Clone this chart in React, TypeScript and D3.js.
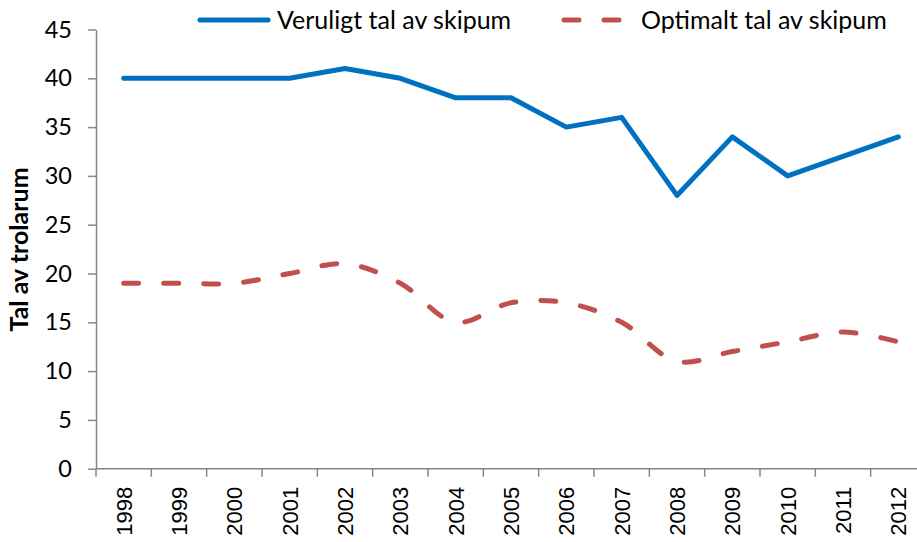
import React, { useRef, useEffect } from 'react';
import * as d3 from 'd3';

const years = ['1998', '1999', '2000', '2001', '2002', '2003', '2004', '2005', '2006', '2007', '2008', '2009', '2010', '2011', '2012'];
const actual = [40, 40, 40, 40, 41, 40, 38, 38, 35, 36, 28, 34, 30, 32, 34];
const optimal = [19, 19, 19, 20, 21, 19, 15, 17, 17, 15, 11, 12, 13, 14, 13];
const yTicks = [0, 5, 10, 15, 20, 25, 30, 35, 40, 45];

const seriesNames = ['Veruligt tal av skipum', 'Optimalt tal av skipum'];
const blue = '#0070C0';
const red = '#C0504D';
const axisColor = '#868686';
const font = 'Lato, "Noto Sans", sans-serif';

const App: React.FC = () => {
    const svgRef = useRef<SVGSVGElement>(null);
    const width = 917;
    const height = 542;

    useEffect(() => {
        document.body.style.margin = '0';
        if (!svgRef.current) return;
        const svg = d3.select(svgRef.current);
        svg.selectAll('*').remove();

        const left = 96;
        const right = 926;
        const top = 29.5;
        const bottom = 468.7;

        const x = d3.scaleBand().domain(years).range([left, right]);
        const y = d3.scaleLinear().domain([0, 45]).range([bottom, top]);
        const cx = (d: string) => x(d)! + x.bandwidth() / 2;

        // Y axis
        const yAxis = svg.append('g')
            .attr('transform', `translate(${left},0)`)
            .call(d3.axisLeft(y).tickValues(yTicks).tickSize(8).tickPadding(16).tickSizeOuter(0));
        yAxis.selectAll('line').attr('stroke', axisColor).attr('stroke-width', 1.5);
        yAxis.select('.domain').attr('stroke', axisColor).attr('stroke-width', 1.5);
        yAxis.selectAll('text')
            .attr('font-family', font)
            .attr('font-size', 23.5)
            .attr('fill', '#000');

        // X axis, ticks between categories
        const xAxis = svg.append('g').attr('transform', `translate(0,${bottom})`);
        xAxis.append('line')
            .attr('x1', left).attr('x2', right)
            .attr('stroke', axisColor).attr('stroke-width', 1.5);
        xAxis.selectAll('.tk')
            .data(years)
            .enter().append('line')
            .attr('x1', d => x(d)!).attr('x2', d => x(d)!)
            .attr('y1', 0).attr('y2', 8)
            .attr('stroke', axisColor).attr('stroke-width', 1.5);
        xAxis.selectAll('.lbl')
            .data(years)
            .enter().append('text')
            .attr('transform', d => `translate(${cx(d) + 8},18) rotate(-90)`)
            .attr('text-anchor', 'end')
            .attr('font-family', '"Liberation Sans", Arial, sans-serif')
            .attr('font-size', 22)
            .attr('fill', '#000')
            .text(d => d);

        // Y axis title
        svg.append('text')
            .attr('transform', `translate(28,249.5) rotate(-90)`)
            .attr('text-anchor', 'middle')
            .attr('font-family', font)
            .attr('font-weight', 'bold')
            .attr('font-size', 25)
            .attr('fill', '#000')
            .text('Tal av trolarum');

        // Lines
        const line = d3.line<number>()
            .x((_d, i) => cx(years[i]))
            .y(d => y(d));

        svg.append('path')
            .attr('d', line.curve(d3.curveCatmullRom.alpha(0.5))(optimal)!)
            .attr('fill', 'none')
            .attr('stroke', red)
            .attr('stroke-width', 5)
            .attr('stroke-linecap', 'round')
            .attr('stroke-dasharray', '15,25');

        svg.append('path')
            .attr('d', line.curve(d3.curveLinear)(actual)!)
            .attr('fill', 'none')
            .attr('stroke', blue)
            .attr('stroke-width', 5)
            .attr('stroke-linecap', 'round')
            .attr('stroke-linejoin', 'round');

        // Legend
        const legend = [
            { name: seriesNames[0], color: blue, dash: null, x: 200 },
            { name: seriesNames[1], color: red, dash: '15,25', x: 564 },
        ];
        const lg = svg.append('g');
        legend.forEach(l => {
            lg.append('line')
                .attr('x1', l.x).attr('x2', l.x + 68)
                .attr('y1', 20).attr('y2', 20)
                .attr('stroke', l.color)
                .attr('stroke-width', 5)
                .attr('stroke-linecap', 'round')
                .attr('stroke-dasharray', l.dash);
            lg.append('text')
                .attr('x', l.x + 77)
                .attr('y', 29)
                .attr('font-family', font)
                .attr('font-size', 25)
                .attr('fill', '#000')
                .text(l.name);
        });
    }, []);

    return (
        <svg
            ref={svgRef}
            width={width}
            height={height}
            style={{ display: 'block', position: 'absolute', left: 0, top: 0, background: '#fff' }}
            viewBox={`0 0 ${width} ${height}`}
        />
    );
};

export default App;
